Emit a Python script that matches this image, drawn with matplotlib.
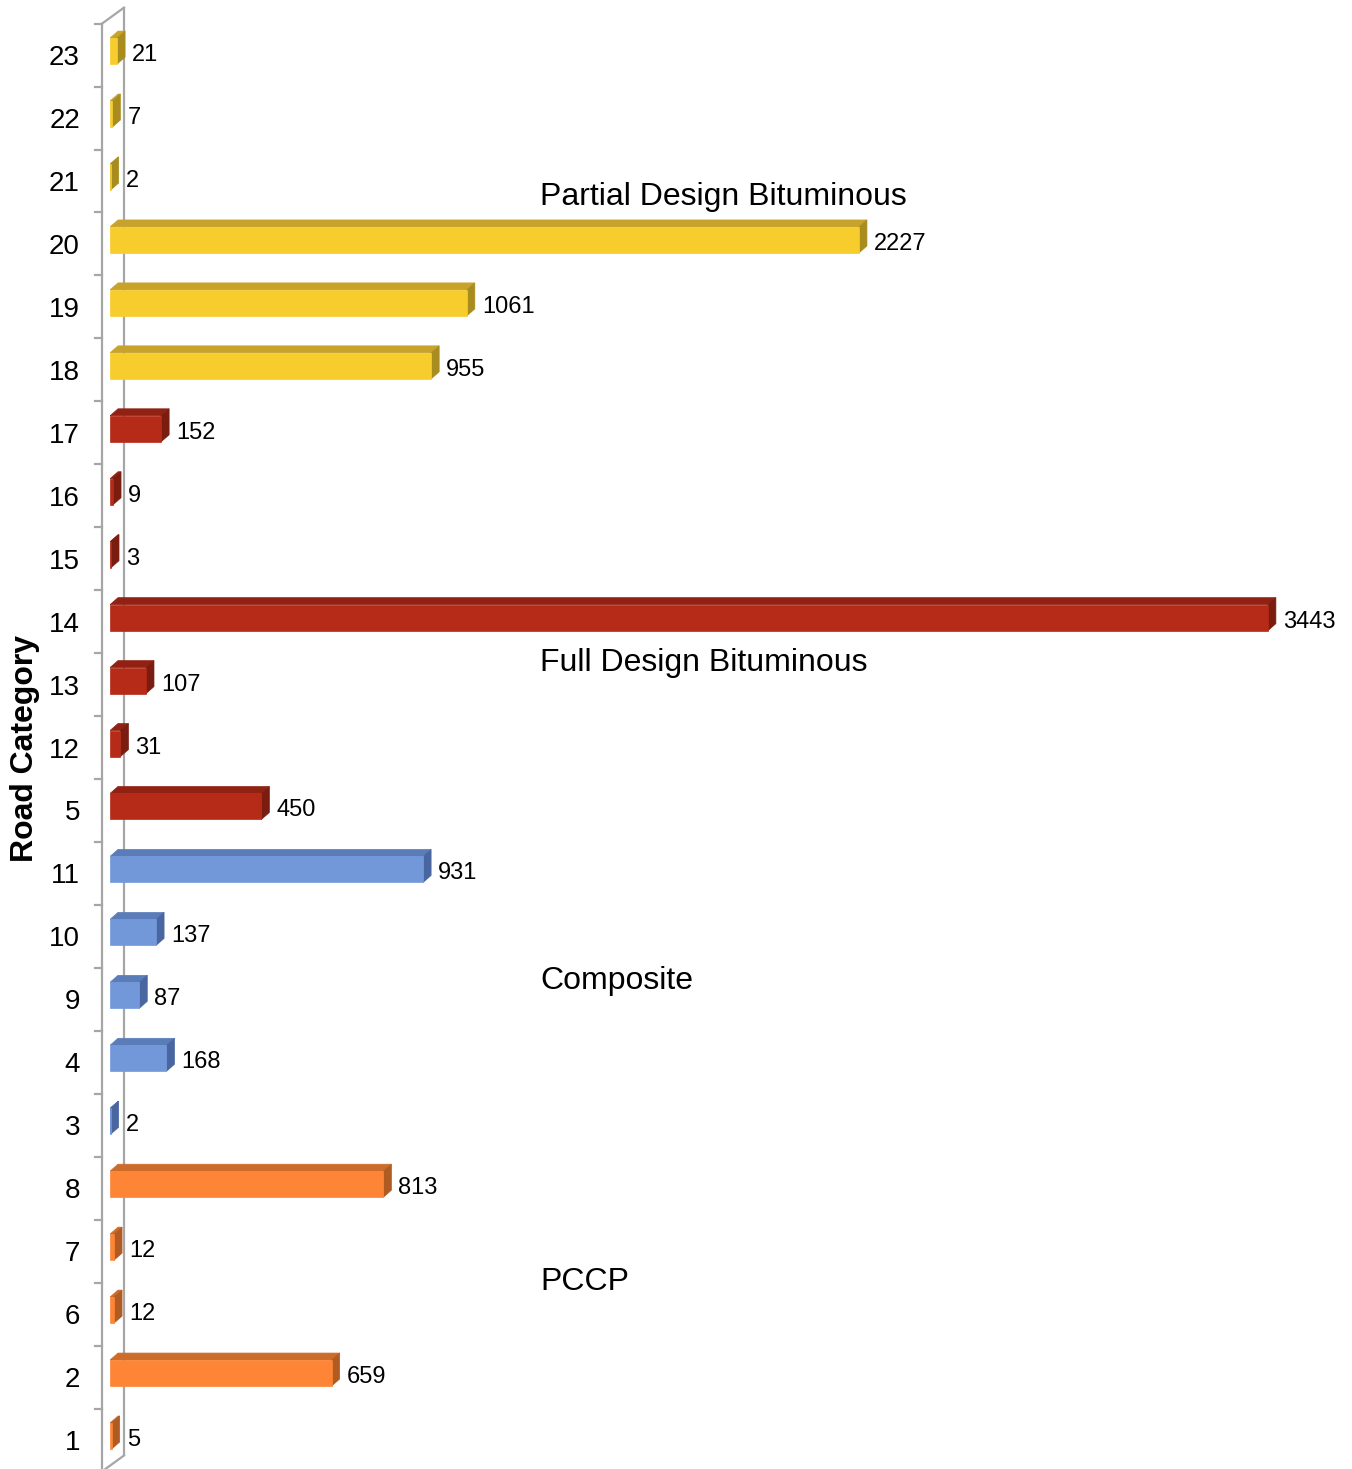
import matplotlib
matplotlib.use("Agg")
import matplotlib.pyplot as plt
from matplotlib.patches import Polygon, Rectangle

plt.rcParams['font.family'] = ['Liberation Sans', 'DejaVu Sans']

# Road categories listed bottom to top, with their section counts
categories = ['1', '2', '6', '7', '8',
              '3', '4', '9', '10', '11',
              '5', '12', '13', '14', '15', '16', '17',
              '18', '19', '20', '21', '22', '23']
counts = [5, 659, 12, 12, 813,
          2, 168, 87, 137, 931,
          450, 31, 107, 3443, 3, 9, 152,
          955, 1061, 2227, 2, 7, 21]
groups = (['PCCP'] * 5 + ['Composite'] * 5 +
          ['Full Design Bituminous'] * 7 + ['Partial Design Bituminous'] * 6)

group_names = ['PCCP', 'Composite', 'Full Design Bituminous', 'Partial Design Bituminous']
group_label_rows = [2.51, 7.29, 12.34, 19.74]

# front / top / side shading for each pavement type
palette = {
    'PCCP': ('#FD8535', '#CC6C2B', '#B05B22'),
    'Composite': ('#7298DA', '#5A7DBA', '#4A66A0'),
    'Full Design Bituminous': ('#B52B17', '#912213', '#7A1C10'),
    'Partial Design Bituminous': ('#F6CD2C', '#C7A32B', '#A88D1E'),
}

W, H, DPI = 1352, 1469, 100
fig = plt.figure(figsize=(W / DPI, H / DPI), dpi=DPI)

# plotting area: value 0 sits at x=110 px, rows are 62.95 px apart
x0_px, px_per_unit = 110, 0.3363
row_px, row0_px = 62.95, 1440          # row 0 centre measured from the top
ax = fig.add_axes([x0_px / W, 0, (W - x0_px) / W, 1])
ax.set_xlim(0, (W - x0_px) / px_per_unit)
ax.set_ylim((row0_px - H) / row_px, row0_px / row_px)
ax.axis('off')


def dx(px):
    return px / px_per_unit


def xpx(px):
    return (px - x0_px) / px_per_unit


def dy(px):
    return px / row_px


def ypx(px_from_top):
    return (row0_px - px_from_top) / row_px


n = len(categories)
wall = '#A6A6A6'
lw = 1.6

# side wall (back edge, diagonals, front edge) and boundary ticks
bottom_b, top_b = -0.5, n - 0.5
wall_dx, wall_dy = 22, 16
front_x, back_x = xpx(102), xpx(102 + wall_dx)
ax.plot([back_x, back_x], [bottom_b + dy(wall_dy), top_b + dy(wall_dy)],
        color=wall, lw=lw, clip_on=False, zorder=1)
for b in (bottom_b, top_b):
    ax.plot([front_x, back_x], [b, b + dy(wall_dy)], color=wall, lw=lw,
            clip_on=False, zorder=1)
ax.plot([front_x, front_x], [bottom_b, top_b], color=wall, lw=lw,
        clip_on=False, zorder=5)
for k in range(n + 1):
    b = k - 0.5
    ax.plot([xpx(95), front_x], [b, b], color=wall, lw=lw, clip_on=False, zorder=5)

# 3-D style bars: front face, top face and right side face
bar_h = dy(26)
bar_lift = dy(4)
depth_x, depth_y = dx(8), dy(7)
for i, (v, g) in enumerate(zip(counts, groups)):
    front, top, side = palette[g]
    yb = i + bar_lift - bar_h / 2
    yt = yb + bar_h
    ax.add_patch(Polygon([(0, yt), (v, yt), (v + depth_x, yt + depth_y),
                          (depth_x, yt + depth_y)], closed=True,
                         facecolor=top, edgecolor=top, lw=0.5, zorder=3))
    ax.add_patch(Polygon([(v, yb), (v, yt), (v + depth_x, yt + depth_y),
                          (v + depth_x, yb + depth_y)], closed=True,
                         facecolor=side, edgecolor=side, lw=0.5, zorder=3))
    ax.add_patch(Rectangle((0, yb), v, bar_h, facecolor=front, edgecolor=front,
                           lw=0.5, zorder=4))
    ax.text(v + depth_x + dx(7), i, f'{v}', ha='left', va='center',
            fontsize=17, color='black', zorder=6)

# category labels
for i, c in enumerate(categories):
    ax.text(xpx(80), i - dy(3), c, ha='right', va='center', fontsize=20,
            color='black', clip_on=False)

# pavement type annotations
for name, r in zip(group_names, group_label_rows):
    ax.text(xpx(540), r, name, ha='left', va='center', fontsize=23, color='black')

ax.text(xpx(25), ypx(749), 'Road Category', rotation=90, ha='center',
        va='center', fontsize=23, fontweight='bold', clip_on=False)

fig.savefig('out.png', dpi=DPI)
